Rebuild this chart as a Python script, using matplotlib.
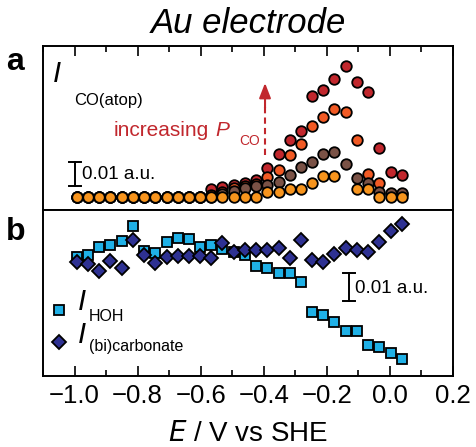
import numpy as np
import matplotlib
matplotlib.use("Agg")
import matplotlib.pyplot as plt

plt.rcParams['font.family'] = ['Liberation Sans', 'DejaVu Sans']

# potential (V vs SHE)
E = [-0.992, -0.957, -0.921, -0.886, -0.850, -0.815, -0.779, -0.744, -0.708, -0.673,
     -0.637, -0.602, -0.566, -0.531, -0.495, -0.460, -0.424, -0.389, -0.353, -0.318,
     -0.282, -0.247, -0.211, -0.176, -0.140, -0.105, -0.069, -0.034, 0.002, 0.038]

# panel a: I_CO(atop) for increasing P_CO (lowest to highest)
co_p1 = [0, 0, 0, 0, 0, 0, 0, 0, 0, 0, 0, 0, 0, 0, 0, 0, 0, 0.0021, 0.0021, 0.0031,
         0.0031, 0.0056, 0.0088, 0.0088, np.nan, 0.0031, 0.0031, 0, 0, 0]
co_p2 = [0, 0, 0, 0, 0, 0, 0, 0, 0, 0, 0, 0, 0, 0.0011, 0.0024, 0.0036, 0.0045, 0.0049, 0.0061, 0.0090,
         0.0126, 0.0146, 0.0180, 0.0188, 0.0136, 0.0077, 0.0056, 0.0021, 0.0014, 0.0014]
co_p3 = [0, 0, 0, 0, 0, 0, 0, 0, 0, 0, 0, 0, 0.0007, 0.0020, 0.0035, 0.0045, 0.0055, 0.0084, 0.0113, 0.0174,
         0.0218, 0.0295, 0.0333, 0.0364, 0.0352, 0.0236, 0.0093, 0.0056, 0.0011, 0.0011]
co_p4 = [0, 0, 0, 0, 0, 0, 0, 0, 0, 0, 0, 0, 0.0031, 0.0042, 0.0049, 0.0056, 0.0072, 0.0118, 0.0179, 0.0236,
         0.0274, 0.0421, 0.0445, 0.0490, 0.0545, 0.0479, 0.0435, 0.0204, 0.0104, 0.0090]

# panel b
hoh = [0.0431, 0.0437, 0.0465, 0.0475, 0.0487, 0.0543, 0.0451, 0.0444, 0.0485, 0.0498,
       0.0496, 0.0467, 0.0473, 0.0460, 0.0448, 0.0437, 0.0396, 0.0389, 0.0373, 0.0373,
       0.0340, 0.0232, 0.0220, 0.0194, 0.0164, 0.0164, 0.0112, 0.0104, 0.0084, 0.0062]
carb = [0.0413, 0.0404, 0.0380, 0.0416, 0.0391, 0.0491, 0.0437, 0.0407, 0.0430, 0.0433,
        0.0433, 0.0433, 0.0427, 0.0480, 0.0450, 0.0454, 0.0454, 0.0457, 0.0463, 0.0428,
        0.0493, 0.0420, 0.0413, 0.0440, 0.0464, 0.0455, 0.0449, 0.0486, 0.0523, 0.0550]

co_colors = ['#f7941d', '#7a5246', '#f15a24', '#c1272d']
red = '#c1272d'
sq_col = '#1fb0e6'
dia_col = '#2e3192'

fig = plt.figure(figsize=(4.77, 4.47), dpi=100)
ax1 = fig.add_axes([0.0901, 0.5302, 0.8596, 0.3669])
ax2 = fig.add_axes([0.0901, 0.1588, 0.8596, 0.3714])

for ax in (ax1, ax2):
    ax.set_xlim(-1.1, 0.2)
    ax.set_xticks(np.arange(-1.0, 0.21, 0.2))
    ax.set_xticks(np.arange(-1.1, 0.21, 0.1), minor=True)
    ax.set_yticks([])
    for s in ax.spines.values():
        s.set_linewidth(1.4)
    ax.tick_params(which='both', direction='in', width=1.2)
    ax.tick_params(which='major', length=7.5)
    ax.tick_params(which='minor', length=4.5)

# panel a
for ys, c in zip([co_p4, co_p3, co_p2, co_p1], co_colors[::-1]):
    ax1.plot(E, ys, 'o', ms=7.6, mfc=c, mec='black', mew=1.3, ls='none')
ax1.set_ylim(-0.0055, 0.0628)
ax1.tick_params(axis='x', which='both', bottom=False, top=True, labelbottom=False)

ax1.text(0.025, 0.83, 'I', transform=ax1.transAxes, fontsize=21, style='italic', va='center')
ax1.text(0.077, 0.665, 'CO(atop)', transform=ax1.transAxes, fontsize=12, va='center')
ax1.text(-0.877, 0.0277, 'increasing', color=red, fontsize=15, va='center')
ax1.text(-0.553, 0.0277, 'P', color=red, fontsize=15, style='italic', va='center')
ax1.text(-0.478, 0.0233, 'CO', color=red, fontsize=10, va='center')

# dashed arrow
ax1.plot([-0.396, -0.396], [0.0174, 0.0375], ls=(0, (3, 2)), color=red, lw=1.5)
ax1.annotate('', xy=(-0.396, 0.0474), xytext=(-0.396, 0.037),
             arrowprops=dict(arrowstyle='-|>,head_length=0.9,head_width=0.35',
                             color=red, lw=1.5, shrinkA=0, shrinkB=0))

# scale bar a
ax1.plot([-1.0, -1.0], [0.0046, 0.0146], color='black', lw=1.4)
ax1.plot([-1.019, -0.981], [0.0146, 0.0146], color='black', lw=1.4)
ax1.plot([-1.019, -0.981], [0.0046, 0.0046], color='black', lw=1.4)
ax1.text(-0.975, 0.0092, '0.01 a.u.', fontsize=13.5, va='center')

ax1.set_title('Au electrode', fontsize=25, style='italic', pad=9)
fig.text(0.012, 0.862, 'a', fontsize=23, fontweight='bold', va='center')
fig.text(0.012, 0.482, 'b', fontsize=23, fontweight='bold', va='center')

# panel b
ax2.plot(E, hoh, 's', ms=7, mfc=sq_col, mec='black', mew=1.3, ls='none')
ax2.plot(E, carb, 'D', ms=7.2, mfc=dia_col, mec='black', mew=1.3, ls='none')
ax2.set_ylim(0, 0.06)
ax2.tick_params(axis='x', which='both', bottom=True, top=False, labelsize=18.5, pad=6)

ax2.plot([-0.129, -0.129], [0.0271, 0.0371], color='black', lw=1.4)
ax2.plot([-0.148, -0.110], [0.0371, 0.0371], color='black', lw=1.4)
ax2.plot([-0.148, -0.110], [0.0271, 0.0271], color='black', lw=1.4)
ax2.text(-0.112, 0.0318, '0.01 a.u.', fontsize=13.5, va='center')

# legend drawn by hand
ax2.plot([-1.05], [0.0238], 's', ms=7, mfc=sq_col, mec='black', mew=1.3)
ax2.plot([-1.05], [0.0124], 'D', ms=7.2, mfc=dia_col, mec='black', mew=1.3)
ax2.text(-0.99, 0.0268, 'I', fontsize=21, style='italic', va='center')
ax2.text(-0.955, 0.0215, 'HOH', fontsize=11.5, va='center')
ax2.text(-0.99, 0.0150, 'I', fontsize=21, style='italic', va='center')
ax2.text(-0.955, 0.0105, '(bi)carbonate', fontsize=11.5, va='center')

ax2.set_xlabel(r'$\it{E}$ / V vs SHE', fontsize=20, labelpad=9)

fig.savefig('out.png', dpi=100)
